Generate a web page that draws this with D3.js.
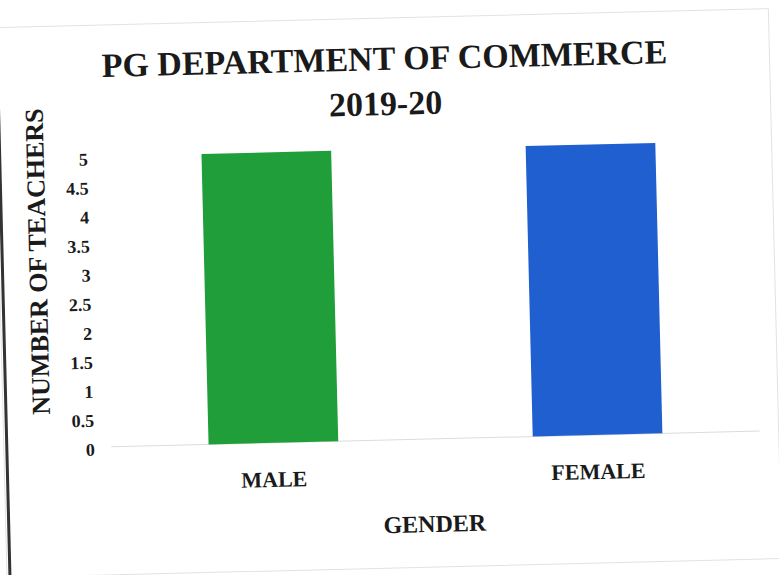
<!DOCTYPE html>
<html>
<head>
<meta charset="utf-8">
<script src="https://cdn.jsdelivr.net/npm/d3@7"></script>
<style>
  body { margin: 0; background: #fff; }
  text { font-family: "Liberation Serif", "Times New Roman", serif; font-weight: bold; fill: #1a1a1a; }
</style>
</head>
<body>
<script>
// datos del grafico
const categories = ["MALE", "FEMALE"];
const teachers = [5, 5];
const barColors = ["#1f9e3a", "#1f5fcf"];
const yTicks = [0, 0.5, 1, 1.5, 2, 2.5, 3, 3.5, 4, 4.5, 5];
const titleLines = ["PG DEPARTMENT OF COMMERCE", "2019-20"];

const width = 779;
const height = 575;

const svg = d3.select("body")
  .append("svg")
  .attr("width", width)
  .attr("height", height);

// la hoja escaneada esta un poco girada
const g = svg.append("g")
  .attr("transform", "rotate(-1.4, 389, 287)");

// marco de la hoja
g.append("rect")
  .attr("x", 0).attr("y", 18)
  .attr("width", 775).attr("height", 550)
  .attr("fill", "none")
  .attr("stroke", "#e2e2e2");
g.append("line")
  .attr("x1", 3).attr("x2", 3)
  .attr("y1", 100).attr("y2", 600)
  .attr("stroke", "#333")
  .attr("stroke-width", 3);

// escalas
const x = d3.scaleBand()
  .domain(categories)
  .range([107.5, 756])
  .paddingInner(0.6)
  .paddingOuter(0.3);

const y = d3.scaleLinear()
  .domain([0, 5])
  .range([440, 149.5]);

// linea base
g.append("line")
  .attr("x1", 107.5).attr("x2", 756)
  .attr("y1", y(0)).attr("y2", y(0))
  .attr("stroke", "#dcdcdc");

// barras
g.selectAll("rect.bar")
  .data(teachers)
  .enter()
  .append("rect")
  .attr("class", "bar")
  .attr("x", (d, i) => x(categories[i]))
  .attr("y", d => y(d))
  .attr("width", x.bandwidth())
  .attr("height", d => y(0) - y(d))
  .attr("fill", (d, i) => barColors[i]);

// eje Y
const yAxis = g.append("g")
  .attr("transform", "translate(91,0)")
  .call(d3.axisLeft(y).tickValues(yTicks).tickSize(0).tickPadding(0).tickFormat(d => String(d)));
yAxis.select(".domain").remove();
yAxis.selectAll("text")
  .attr("dy", "0.45em")
  .style("font-size", "18px")
  .style("font-family", "'Liberation Serif', serif")
  .style("font-weight", "bold")
  .attr("fill", "#1a1a1a");

// eje X
const xAxis = g.append("g")
  .attr("transform", "translate(0," + y(0) + ")")
  .call(d3.axisBottom(x).tickSize(0).tickPadding(0));
xAxis.select(".domain").remove();
xAxis.selectAll("text")
  .attr("y", 44)
  .attr("dy", 0)
  .style("font-size", "22px")
  .style("font-family", "'Liberation Serif', serif")
  .style("font-weight", "bold")
  .attr("fill", "#1a1a1a");

// titulos
g.selectAll("text.title")
  .data(titleLines)
  .enter()
  .append("text")
  .attr("class", "title")
  .attr("x", 390)
  .attr("y", (d, i) => 70 + i * 45)
  .attr("text-anchor", "middle")
  .style("font-size", "34px")
  .text(d => d);

g.append("text")
  .attr("x", 429)
  .attr("y", 533)
  .attr("text-anchor", "middle")
  .style("font-size", "24px")
  .text("GENDER");

g.append("text")
  .attr("transform", "translate(47,253) rotate(-90)")
  .attr("text-anchor", "middle")
  .style("font-size", "26px")
  .text("NUMBER OF TEACHERS");
</script>
</body>
</html>
